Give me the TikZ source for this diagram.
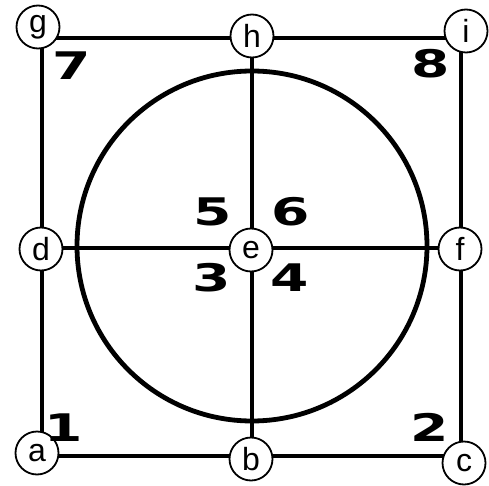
\documentclass[tikz,border=0pt]{standalone}
\usepackage{fontspec}
\setmainfont{Liberation Sans}
\newfontfamily\digitfont{DejaVu Sans}
\tikzset{
  lbl/.style={circle,draw,line width=1.8pt,fill=white,minimum size=43pt,inner sep=0pt,font=\fontsize{32}{32}\selectfont},
  edge/.style={line width=4.5pt},
  num/.style={font=\digitfont\bfseries\fontsize{38}{38}\selectfont,xscale=1.45,inner sep=0pt}
}
\begin{document}
\begin{tikzpicture}[x=1pt,y=-1pt]
\useasboundingbox (0,0) rectangle (489,486);
% frame coordinates
\coordinate (A) at (42,456);
\coordinate (B) at (252,456);
\coordinate (C) at (461,456);
\coordinate (D) at (42,248);
\coordinate (E) at (252,248);
\coordinate (F) at (461,248);
\coordinate (G) at (42,38);
\coordinate (H) at (252,38);
\coordinate (I) at (461,38);
\draw[edge] (A) -- (C) -- (I) -- (G) -- cycle;
\draw[edge] (D) -- (F);
\draw[edge] (H) -- (B);
\node[circle,draw,line width=4.8pt,minimum size=350pt,inner sep=0pt] (O) at (252,246) {};
% labels
\node[lbl] (a) at (37,453) {a};
\node[lbl] (b) at (251,459) {b};
\node[lbl] (c) at (464,463) {c};
\node[lbl] (d) at (41,249) {d};
\node[lbl] (e) at (251,250) {e};
\node[lbl] (f) at (460,249) {f};
\node[lbl] (g) at (38,27) {g};
\node[lbl] (h) at (252,36) {h};
\node[lbl] (i) at (466,31) {i};
% region numbers
\node[num] (n1) at (64,428) {1};
\node[num] (n2) at (430,427) {2};
\node[num] (n3) at (212,278) {3};
\node[num] (n4) at (290,278) {4};
\node[num] (n5) at (213,212) {5};
\node[num] (n6) at (291,212) {6};
\node[num] (n7) at (72,66) {7};
\node[num] (n8) at (431,64) {8};
\end{tikzpicture}
\end{document}
